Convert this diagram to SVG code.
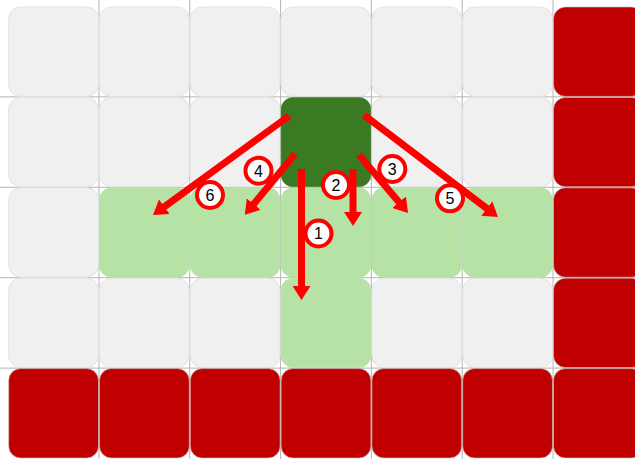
<svg xmlns="http://www.w3.org/2000/svg" width="635" height="459" viewBox="0 0 635 459">
<style>
.grid{stroke:#b4b4b4;stroke-width:1;fill:none}
.c{rx:12;ry:12}
.e{fill:#f0f0f0;stroke:#e2e2e2;stroke-width:1}
.r{fill:#c00000;stroke:#c4c4c4;stroke-width:0.6}
.g{fill:#b6e3a5;stroke:#b6e3a5;stroke-width:0.6}
.d{fill:#3a7a22;stroke:#3a7a22;stroke-width:0.6}
.a{stroke:#ff0000;stroke-width:7;fill:none;marker-end:url(#ah)}
.lc{fill:#ffffff;stroke:#ff0000;stroke-width:4}
.lt{font-family:"Liberation Sans",Arial,sans-serif;font-size:16px;fill:#000;text-anchor:middle}
</style>
<defs>
<marker id="ah" viewBox="0 0 14 18" refX="4" refY="9" markerWidth="14" markerHeight="18" markerUnits="userSpaceOnUse" orient="auto">
<path d="M0,0 L14,9 L0,18 Z" fill="#ff0000"/>
</marker>
</defs>
<rect width="635" height="459" fill="#ffffff"/>
<g id="grid" class="grid">
<line x1="99" y1="0" x2="99" y2="459"/>
<line x1="189.8" y1="0" x2="189.8" y2="459"/>
<line x1="280.6" y1="0" x2="280.6" y2="459"/>
<line x1="371.4" y1="0" x2="371.4" y2="459"/>
<line x1="462.2" y1="0" x2="462.2" y2="459"/>
<line x1="553" y1="0" x2="553" y2="459"/>
<line x1="0" y1="96.9" x2="635" y2="96.9"/>
<line x1="0" y1="187.3" x2="635" y2="187.3"/>
<line x1="0" y1="277.7" x2="635" y2="277.7"/>
<line x1="0" y1="368.1" x2="635" y2="368.1"/>
</g>
<g id="cells">
<g id="c0-0"><rect class="c e" x="8.7" y="7" width="89.8" height="89.4"/></g>
<g id="c0-1"><rect class="c e" x="99.5" y="7" width="89.8" height="89.4"/></g>
<g id="c0-2"><rect class="c e" x="190.3" y="7" width="89.8" height="89.4"/></g>
<g id="c0-3"><rect class="c e" x="281.1" y="7" width="89.8" height="89.4"/></g>
<g id="c0-4"><rect class="c e" x="371.9" y="7" width="89.8" height="89.4"/></g>
<g id="c0-5"><rect class="c e" x="462.7" y="7" width="89.8" height="89.4"/></g>
<g id="c0-6"><rect class="c r" x="553.5" y="7" width="89.8" height="89.4"/></g>

<g id="c1-0"><rect class="c e" x="8.7" y="97.4" width="89.8" height="89.4"/></g>
<g id="c1-1"><rect class="c e" x="99.5" y="97.4" width="89.8" height="89.4"/></g>
<g id="c1-2"><rect class="c e" x="190.3" y="97.4" width="89.8" height="89.4"/></g>
<g id="c1-3"><rect class="c d" x="281.1" y="97.4" width="89.8" height="89.4"/></g>
<g id="c1-4"><rect class="c e" x="371.9" y="97.4" width="89.8" height="89.4"/></g>
<g id="c1-5"><rect class="c e" x="462.7" y="97.4" width="89.8" height="89.4"/></g>
<g id="c1-6"><rect class="c r" x="553.5" y="97.4" width="89.8" height="89.4"/></g>

<g id="c2-0"><rect class="c e" x="8.7" y="187.8" width="89.8" height="89.4"/></g>
<g id="c2-1"><rect class="c g" x="99.5" y="187.8" width="89.8" height="89.4"/></g>
<g id="c2-2"><rect class="c g" x="190.3" y="187.8" width="89.8" height="89.4"/></g>
<g id="c2-3"><rect class="c g" x="281.1" y="187.8" width="89.8" height="89.4"/></g>
<g id="c2-4"><rect class="c g" x="371.9" y="187.8" width="89.8" height="89.4"/></g>
<g id="c2-5"><rect class="c g" x="462.7" y="187.8" width="89.8" height="89.4"/></g>
<g id="c2-6"><rect class="c r" x="553.5" y="187.8" width="89.8" height="89.4"/></g>

<g id="c3-0"><rect class="c e" x="8.7" y="278.2" width="89.8" height="89.4"/></g>
<g id="c3-1"><rect class="c e" x="99.5" y="278.2" width="89.8" height="89.4"/></g>
<g id="c3-2"><rect class="c e" x="190.3" y="278.2" width="89.8" height="89.4"/></g>
<g id="c3-3"><rect class="c g" x="281.1" y="278.2" width="89.8" height="89.4"/></g>
<g id="c3-4"><rect class="c e" x="371.9" y="278.2" width="89.8" height="89.4"/></g>
<g id="c3-5"><rect class="c e" x="462.7" y="278.2" width="89.8" height="89.4"/></g>
<g id="c3-6"><rect class="c r" x="553.5" y="278.2" width="89.8" height="89.4"/></g>

<g id="c4-0"><rect class="c r" x="8.7" y="368.6" width="89.8" height="89.4"/></g>
<g id="c4-1"><rect class="c r" x="99.5" y="368.6" width="89.8" height="89.4"/></g>
<g id="c4-2"><rect class="c r" x="190.3" y="368.6" width="89.8" height="89.4"/></g>
<g id="c4-3"><rect class="c r" x="281.1" y="368.6" width="89.8" height="89.4"/></g>
<g id="c4-4"><rect class="c r" x="371.9" y="368.6" width="89.8" height="89.4"/></g>
<g id="c4-5"><rect class="c r" x="462.7" y="368.6" width="89.8" height="89.4"/></g>
<g id="c4-6"><rect class="c r" x="553.5" y="368.6" width="89.8" height="89.4"/></g>
</g>
<g id="connectors">
<line class="a" x1="301.5" y1="169" x2="301.5" y2="290"/>
<line class="a" x1="353" y1="169" x2="353" y2="216"/>
<line class="a" x1="359" y1="155" x2="401.6" y2="205.3"/>
<line class="a" x1="364" y1="115" x2="490" y2="210.9"/>
<line class="a" x1="295" y1="154" x2="251.2" y2="207.1"/>
<line class="a" x1="289" y1="116" x2="161.1" y2="209.1"/>
</g>
<g id="labels">
<g id="l1"><circle class="lc" cx="318.5" cy="233.5" r="13"/><text class="lt" x="318.5" y="239.3">1</text></g>
<g id="l2"><circle class="lc" cx="336" cy="185" r="13"/><text class="lt" x="336" y="190.8">2</text></g>
<g id="l3"><circle class="lc" cx="392.3" cy="169" r="13"/><text class="lt" x="392.3" y="174.8">3</text></g>
<g id="l4"><circle class="lc" cx="258.5" cy="170.7" r="13"/><text class="lt" x="258.5" y="176.5">4</text></g>
<g id="l5"><circle class="lc" cx="450" cy="198.3" r="13"/><text class="lt" x="450" y="204.1">5</text></g>
<g id="l6"><circle class="lc" cx="210" cy="195" r="13"/><text class="lt" x="210" y="200.8">6</text></g>
</g>
</svg>
